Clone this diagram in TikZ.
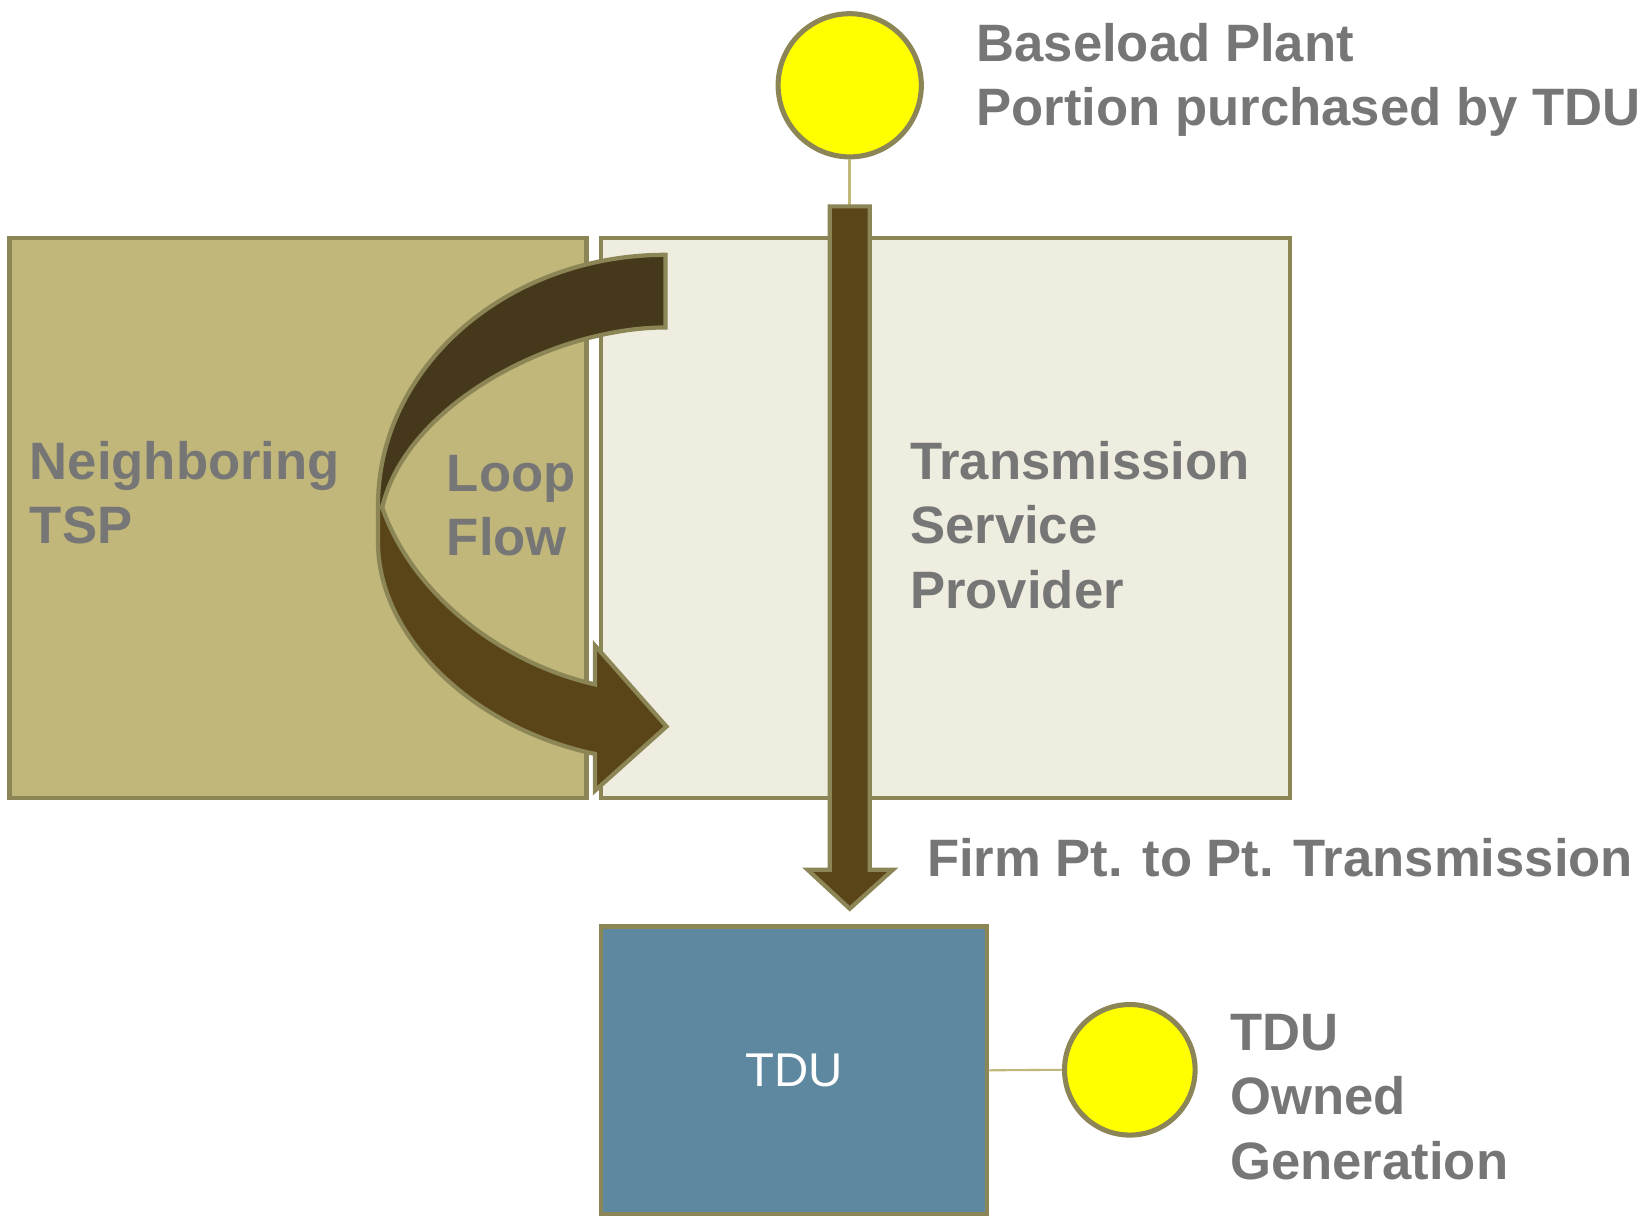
\documentclass[tikz,border=0pt]{standalone}
\usepackage{fontspec}
\setmainfont{Liberation Sans}
\definecolor{rim}{HTML}{8C8556}
\definecolor{neighfill}{HTML}{C1B77A}
\definecolor{tspfill}{HTML}{EFEDDF}
\definecolor{tdufill}{HTML}{5E87A0}
\definecolor{flowdark}{HTML}{46381A}
\definecolor{flowmid}{HTML}{5A4519}
\definecolor{labelgray}{HTML}{767676}
\definecolor{tie}{HTML}{C0B77A}
\definecolor{plantyellow}{HTML}{FFFF00}
\tikzset{
  area/.style={draw=rim, line width=2pt, rectangle, inner sep=0pt},
  plantdot/.style={draw=rim, line width=2.4pt, circle, fill=plantyellow, inner sep=0pt},
  flowshape/.style={draw=rim, line width=2pt, line join=miter},
  lbl/.style={anchor=north west, inner sep=0pt, align=left, text=labelgray,
    font=\fontsize{25pt}{30.5pt}\selectfont\bfseries},
  tieline/.style={draw=tie}
}
\begin{document}
\begin{tikzpicture}[x=0.5pt,y=-0.5pt]
\useasboundingbox (0,0) rectangle (1568,1157);

% regions
\node[area, fill=neighfill, minimum width=274pt, minimum height=266pt] (neigh) at (283,492) {};
\node[area, fill=tspfill, minimum width=327pt, minimum height=266pt] (tsp) at (898,492) {};
\node[area, fill=tdufill, minimum width=183pt, minimum height=136.5pt,
      text=white, font=\fontsize{22.5pt}{27pt}\selectfont] (tdu) at (754,1016.5) {TDU};

% generators
\node[plantdot, minimum size=68pt] (plant) at (807,81) {};
\node[plantdot, minimum size=62pt] (gen) at (1073,1016) {};
\draw[tieline, line width=1pt] (tdu.east) -- (gen.west);

% loop flow: back band
\fill[flowdark] (632,242) -- (632,311)
  .. controls (525,311) and (385,385) .. (363,482)
  -- (359,480)
  .. controls (359,349) and (481,242) .. cycle;
% loop flow: front band with head
\path[fill=flowmid] (363,482)
  .. controls (390,560) and (470,628) .. (565,650)
  -- (565,613) -- (633,690) -- (565,751) -- (565,716)
  .. controls (450,692) and (359,605) .. (359,515) -- (359,480) -- cycle;
% outlines of the loop flow
\draw[flowshape] (632,242) -- (632,311)
  .. controls (525,311) and (385,385) .. (363,482)
  .. controls (390,560) and (470,628) .. (565,650)
  -- (565,613) -- (633,690) -- (565,751) -- (565,716)
  .. controls (450,692) and (359,605) .. (359,515) -- (359,480)
  .. controls (359,349) and (481,242) .. cycle;

% firm point-to-point transmission arrow
\coordinate (ftop) at (807,196);
\draw[tieline, line width=1.5pt] (plant.south) -- (ftop);
\draw[flowshape, fill=flowmid] (788,196) -- (826,196) -- (826,826) -- (848,826)
  -- (807,863) -- (767,826) -- (788,826) -- cycle;

% labels
\node[lbl] (plantlbl) at (927,22) {Baseload Plant\\Portion purchased by TDU};
\node[lbl] (neighlbl) at (28,419) {Neighboring\\TSP};
\node[lbl] (looplbl) at (424,432) {Loop\\Flow};
\node[lbl] (tsplbl) at (864,419) {Transmission\\Service\\Provider};
\node[lbl] (firmlbl) at (880,796) {Firm Pt. to Pt. Transmission};
\node[lbl] (genlbl) at (1168,963) {TDU\\Owned\\Generation};
\end{tikzpicture}
\end{document}
